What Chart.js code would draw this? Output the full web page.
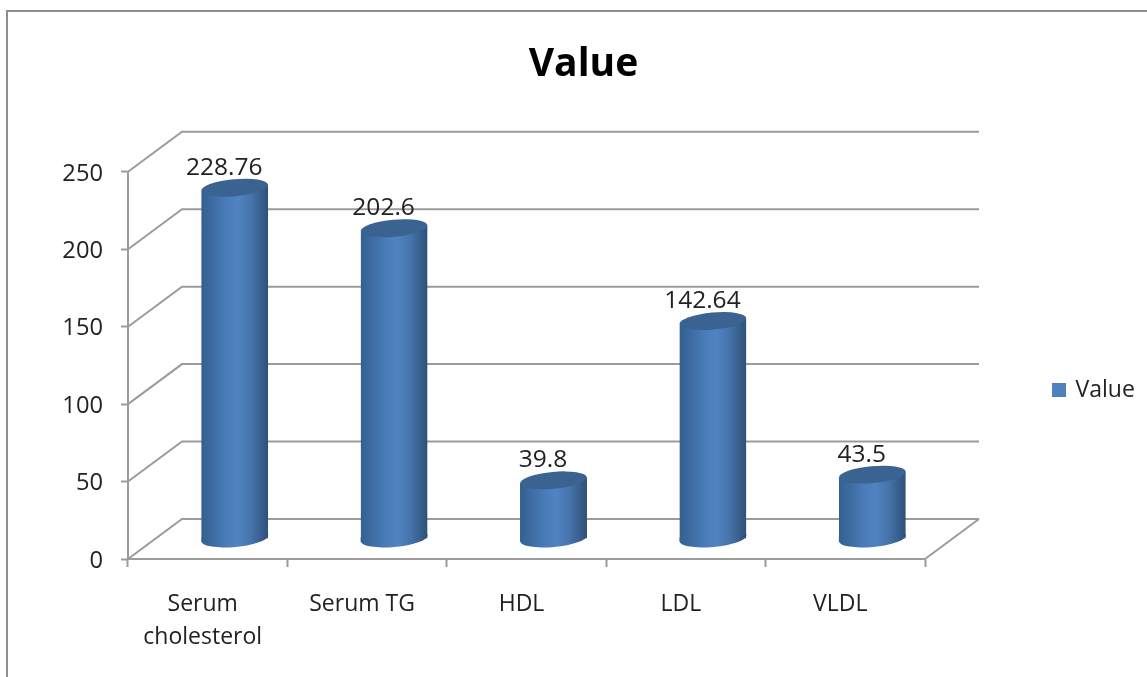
<!DOCTYPE html>
<html><head><meta charset="utf-8">
<style>html,body{margin:0;padding:0;background:#fff}#w{width:1147px;height:677px}canvas{display:block}</style>
<script src="https://cdn.jsdelivr.net/npm/chart.js@4"></script>
</head><body><div id="w"><canvas id="c" width="1147" height="677"></canvas></div>
<script>
const categories = [["Serum","cholesterol"],"Serum TG","HDL","LDL","VLDL"];
const values = [228.76,202.6,39.8,142.64,43.5];
const valueLabels = ["228.76","202.6","39.8","142.64","43.5"];
const seriesName = "Value";
const yTicks = [0,50,100,150,200,250];

const FONT = "'Open Sans'";
const LINE = "#9b9b9b";
const DX = 54, DY = -40;      // depth of the 3D box
const BX = 27, BY = -20;      // bars stand mid-depth
const TILT = -0.09, RY = 8.5, CAP = 3;

function cylGradient(ctx, cx, w){
  const g = ctx.createLinearGradient(cx-w/2,0,cx+w/2,0);
  g.addColorStop(0,"#33608f");
  g.addColorStop(0.14,"#3c6a9f");
  g.addColorStop(0.38,"#4a7cb9");
  g.addColorStop(0.55,"#5083c2");
  g.addColorStop(0.74,"#4674ab");
  g.addColorStop(0.92,"#355b88");
  g.addColorStop(1,"#2f5179");
  return g;
}

const box3d = {
  id:"box3d",
  beforeLayout(chart){
    const l = chart.legend;
    if(l && !l._wrapped){
      const orig = l.fit;
      l.fit = function(){ orig.call(this); this.width = 0; };
      l._wrapped = true;
    }
  },
  afterLayout(chart){
    const l = chart.legend;
    l.left = 1044; l.right = 1147; l.top = 368.5; l.bottom = 420;
  },
  beforeDraw(chart){
    const c = chart.ctx;
    c.save();
    c.strokeStyle="#8e8e8e"; c.lineWidth=2;
    c.beginPath(); c.moveTo(7,677); c.lineTo(7,11); c.lineTo(1147,11); c.stroke();
    c.restore();
  },
  beforeDatasetsDraw(chart){
    const c = chart.ctx, y = chart.scales.y, a = chart.chartArea;
    c.save();
    c.strokeStyle=LINE; c.lineWidth=2;
    y.ticks.forEach(t=>{
      const p = y.getPixelForValue(t.value);
      c.beginPath();
      c.moveTo(a.left,p); c.lineTo(a.left+DX,p+DY); c.lineTo(a.right+DX,p+DY);
      c.stroke();
    });
    const p0 = y.getPixelForValue(0);
    c.beginPath(); c.moveTo(a.right,p0); c.lineTo(a.right+DX,p0+DY); c.stroke();
    c.restore();
  },
  beforeDatasetDraw(chart,args){
    const c = chart.ctx;
    c.save();
    c.translate(BX,BY);
    const meta = chart.getDatasetMeta(args.index);
    c.beginPath();
    meta.data.forEach(b=>{
      const hw = b.width/2, s = Math.sin(-TILT)*hw, t = b.y+CAP;
      c.moveTo(b.x-hw,t+s); c.lineTo(b.x+hw,t-s);
      c.lineTo(b.x+hw,b.base); c.lineTo(b.x-hw,b.base); c.closePath();
    });
    c.clip();
  },
  afterDatasetDraw(chart,args){
    const c = chart.ctx;
    c.restore();           // drop the slanted clip
    c.save();
    c.translate(BX,BY);
    const meta = chart.getDatasetMeta(args.index);
    meta.data.forEach(b=>{
      const rx = b.width/2, s = Math.sin(-TILT)*rx;
      c.fillStyle = cylGradient(c,b.x,b.width);
      c.beginPath(); c.ellipse(b.x,b.base,rx,RY,TILT,0,Math.PI*2); c.fill();
      c.beginPath(); c.moveTo(b.x-rx,b.base-1); c.lineTo(b.x-rx,b.base+s); c.lineTo(b.x+rx,b.base-s); c.lineTo(b.x+rx,b.base-s-1); c.closePath(); c.fill();
      c.fillStyle = "#3a6391";
      c.beginPath(); c.ellipse(b.x,b.y+CAP,rx,RY,TILT,0,Math.PI*2); c.fill();
    });
    c.restore();
    c.save();
    c.fillStyle="#222"; c.font="24.5px "+FONT; c.textAlign="center"; c.textBaseline="middle";
    meta.data.forEach((b,i)=>{
      c.fillText(valueLabels[i], b.x+BX-10.5, b.y+BY-17);
    });
    c.restore();
  }
};

new Chart(document.getElementById("c"),{
  type:"bar",
  data:{labels:categories,datasets:[{
    label:seriesName,
    data:values,
    clip:false,
    barPercentage:0.42,
    categoryPercentage:1,
    borderWidth:0,
    backgroundColor(ctx){
      if(ctx.dataIndex===undefined) return "#4F81BD";
      const x = ctx.chart.scales.x;
      const w = (x.right-x.left)/categories.length*0.42;
      const cx = x.getPixelForValue(ctx.dataIndex);
      if(!isFinite(cx) || !isFinite(w)) return "#4F81BD";
      return cylGradient(ctx.chart.ctx,cx,w);
    }
  }]},
  plugins:[box3d],
  options:{
    responsive:false,
    animation:false,
    events:[],
    layout:{padding:{left:20,right:0,top:0,bottom:0}},
    plugins:{
      tooltip:{enabled:false},
      title:{display:true,text:seriesName,color:"#000",
        font:{family:FONT,size:39,weight:"bold",lineHeight:1.2},
        padding:{top:41,bottom:84}},
      legend:{display:true,position:"right",align:"start",
        labels:{boxWidth:10,boxHeight:10,color:"#222",font:{family:FONT,size:23},
          generateLabels(chart){
            return chart.data.datasets.map((d,i)=>({
              text:d.label,fillStyle:"#4F81BD",strokeStyle:"#4F81BD",lineWidth:4,
              hidden:false,datasetIndex:i,fontColor:"#222"
            }));
          }}}
    },
    scales:{
      x:{offset:true,
        grid:{drawOnChartArea:false,drawTicks:true,tickLength:8,tickColor:LINE,tickWidth:2,offset:true},
        border:{color:LINE,width:2},
        ticks:{color:"#222",font:{family:FONT,size:23,lineHeight:1.43},padding:21,labelOffset:-5,maxRotation:0,autoSkip:false},
        afterFit(s){s.height=118;}
      },
      y:{min:0,max:250,
        afterBuildTicks(s){s.ticks=yTicks.map(v=>({value:v}));},
        grid:{drawOnChartArea:false,drawTicks:true,tickLength:7,tickColor:LINE,tickWidth:2},
        border:{color:LINE,width:2},
        ticks:{color:"#222",font:{family:FONT,size:23.7},padding:18,labelOffset:2},
        afterFit(s){s.width=108;}
      },
      pad:{type:"linear",position:"right",display:true,
        grid:{display:false},border:{display:false},ticks:{display:false},
        afterFit(s){s.width=222;}
      }
    }
  }
});
</script></body></html>
